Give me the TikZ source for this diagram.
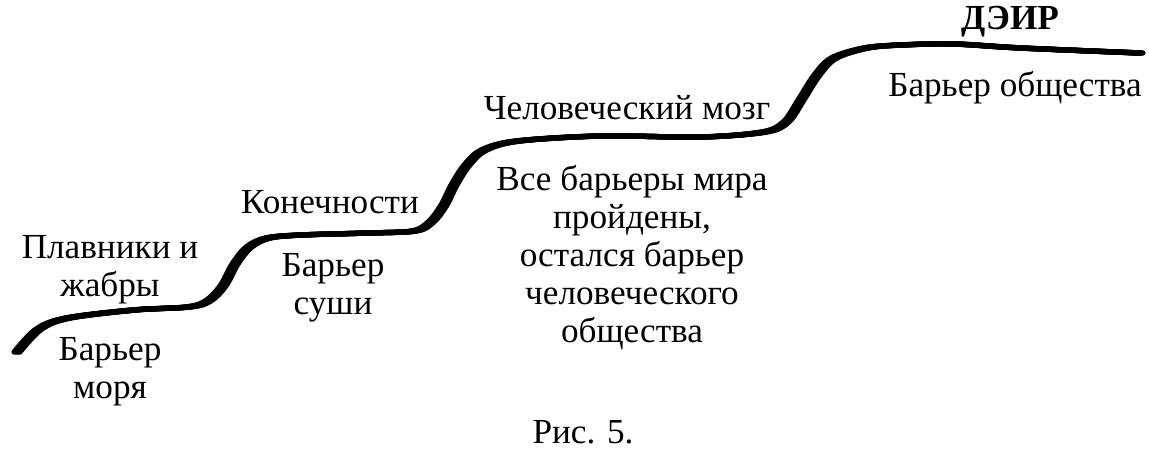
\documentclass[tikz,border=0pt]{standalone}
\usepackage{fontspec}
\setmainfont{Liberation Serif}
\begin{document}
\begin{tikzpicture}[x=0.5pt,y=-0.5pt,
	caption text/.style={font=\fontsize{17.6}{19}\selectfont, align=center, inner sep=0pt},
	stair line/.style={line width=2.6pt, line cap=round, line join=round}]
	\useasboundingbox (0,0) rectangle (1149,451);

	% Draw the staircase curve (broad nib: copies shifted sideways)
	\foreach \s in {0,1,2,3,4,5,6}{
		\draw[stair line, xshift=\s*0.5pt] plot[smooth, tension=0.55] coordinates {
			(14,352) (36,329) (65,318) (131,310) (185,307) (205,301)
			(220,286) (232,264) (246,247) (265,238) (298,235) (365,233)
			(411,231) (428,222) (441,205) (451,185) (464,165) (481,150)
			(515,141) (598,136) (698,137) (761,132) (783,122) (798,100)
			(814,75) (831,58) (863,48) (898,45) (951,44) (1018,48) (1137,53)};
	}

	% Step labels
	\node[caption text] (fins) at (110,270) {Плавники и\\жабры};
	\node[caption text] (sea) at (110,372) {Барьер\\моря};
	\node[caption text] (limbs) at (330,202) {Конечности};
	\node[caption text] (land) at (333,288) {Барьер\\суши};
	\node[caption text] (brain) at (627,108) {Человеческий мозг};
	\node[caption text] (world) at (632,258) {Все барьеры мира\\пройдены,\\остался барьер\\человеческого\\общества};
	\node[caption text, font=\fontsize{17.6}{19}\selectfont\bfseries] (deir) at (1010,22) {ДЭИР};
	\node[caption text] (society) at (1015,88) {Барьер общества};

	% Figure caption
	\node[caption text] (fig) at (583,432) {Рис. 5.};
\end{tikzpicture}
\end{document}
